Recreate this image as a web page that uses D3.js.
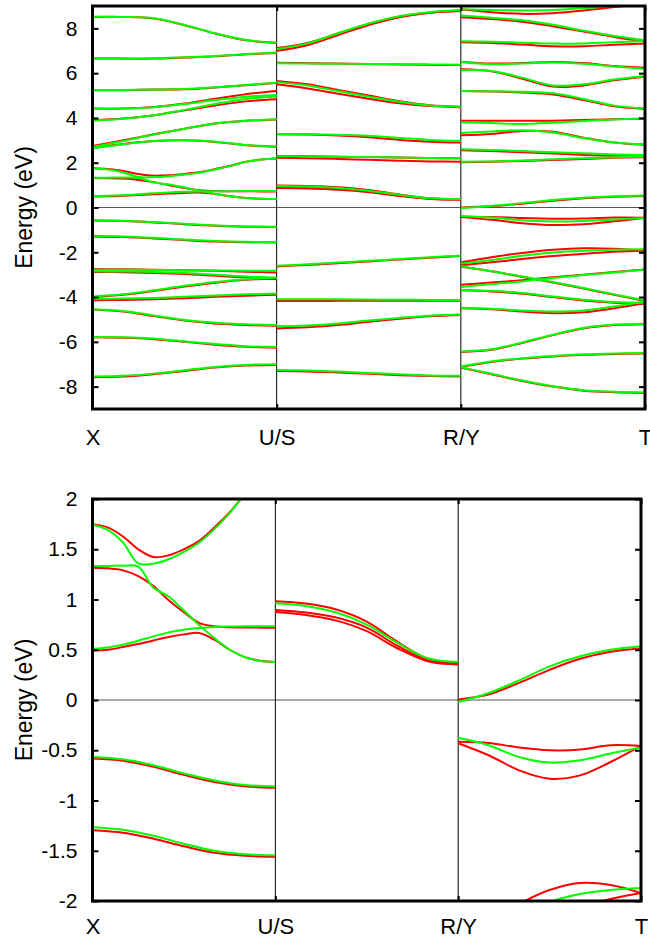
<!DOCTYPE html>
<html>
<head>
<meta charset="utf-8">
<script src="https://cdn.jsdelivr.net/npm/d3@7"></script>
<style>
  body { margin: 0; background: #fff; }
  svg text { font-family: "Liberation Sans", Arial, Helvetica, sans-serif; fill: #000; }
</style>
</head>
<body>
<svg id="chart" width="650" height="939"></svg>
<script>
// High-symmetry path
const kPath = ["X", "U/S", "R/Y", "T"];

// Energy ticks for the full view and the zoom near the gap
const fullTicks = [-8, -6, -4, -2, 0, 2, 4, 6, 8];
const zoomTicks = [-2, -1.5, -1, -0.5, 0, 0.5, 1, 1.5, 2];

// Band energies (eV), evenly sampled along each path segment.
// Red = spin up, green = spin down.
const redXU = [
  [8.51, 8.51, 8.44, 8.14, 7.77, 7.47, 7.35],
  [6.65, 6.65, 6.65, 6.70, 6.75, 6.84, 6.90],
  [5.24, 5.24, 5.27, 5.28, 5.36, 5.46, 5.56],
  [4.42, 4.42, 4.49, 4.64, 4.86, 5.06, 5.20],
  [3.90, 3.97, 4.12, 4.34, 4.56, 4.74, 4.83],
  [2.75, 3.00, 3.27, 3.52, 3.75, 3.87, 3.93],
  [2.66, 2.84, 2.97, 3.00, 2.93, 2.78, 2.71],
  [1.75, 1.717, 1.627, 1.50, 1.423, 1.44, 1.50, 1.583, 1.717, 1.867, 2.04, 2.14, 2.19],
  [1.317, 1.31, 1.29, 1.233, 1.133, 0.993, 0.873, 0.767, 0.733, 0.723, 0.722, 0.72, 0.72],
  [0.493, 0.50, 0.527, 0.557, 0.593, 0.627, 0.653, 0.667, 0.60, 0.50, 0.427, 0.39, 0.377],
  [-0.583, -0.605, -0.665, -0.745, -0.815, -0.858, -0.873],
  [-1.295, -1.32, -1.38, -1.455, -1.52, -1.55, -1.56],
  [-2.75, -2.76, -2.78, -2.80, -2.83, -2.87, -2.90],
  [-2.88, -2.89, -2.92, -2.97, -3.05, -3.13, -3.20],
  [-4.00, -3.90, -3.73, -3.53, -3.36, -3.23, -3.17],
  [-4.14, -4.13, -4.10, -4.05, -3.99, -3.94, -3.90],
  [-4.56, -4.65, -4.85, -5.05, -5.18, -5.25, -5.28],
  [-5.80, -5.82, -5.88, -6.00, -6.13, -6.22, -6.26],
  [-7.58, -7.55, -7.45, -7.30, -7.15, -7.06, -7.03]
];
const greenXU = [
  [8.52, 8.51, 8.45, 8.15, 7.78, 7.48, 7.36],
  [6.66, 6.66, 6.66, 6.71, 6.77, 6.85, 6.92],
  [5.25, 5.25, 5.27, 5.29, 5.37, 5.47, 5.57],
  [4.42, 4.42, 4.48, 4.62, 4.80, 4.95, 5.03],
  [3.88, 3.96, 4.12, 4.36, 4.62, 4.85, 4.96],
  [2.70, 2.97, 3.26, 3.52, 3.75, 3.88, 3.94],
  [2.63, 2.82, 2.97, 3.01, 2.94, 2.79, 2.72],
  [1.743, 1.693, 1.567, 1.36, 1.357, 1.40, 1.473, 1.567, 1.70, 1.86, 2.04, 2.14, 2.19],
  [1.333, 1.333, 1.337, 1.327, 1.117, 1.03, 0.89, 0.745, 0.617, 0.50, 0.427, 0.39, 0.377],
  [0.51, 0.523, 0.55, 0.59, 0.633, 0.673, 0.70, 0.717, 0.727, 0.731, 0.733, 0.733, 0.733],
  [-0.567, -0.59, -0.65, -0.73, -0.80, -0.845, -0.86],
  [-1.265, -1.29, -1.35, -1.43, -1.50, -1.535, -1.545],
  [-2.78, -2.78, -2.79, -2.80, -2.81, -2.82, -2.83],
  [-2.85, -2.86, -2.88, -2.93, -3.00, -3.08, -3.14],
  [-3.97, -3.88, -3.70, -3.50, -3.33, -3.20, -3.14],
  [-4.08, -4.07, -4.04, -3.99, -3.93, -3.88, -3.85],
  [-4.54, -4.62, -4.82, -5.02, -5.15, -5.22, -5.25],
  [-5.78, -5.79, -5.85, -5.98, -6.10, -6.20, -6.23],
  [-7.55, -7.52, -7.42, -7.27, -7.12, -7.03, -7.00]
];

const redUR = [
  [7.00, 7.25, 7.70, 8.15, 8.50, 8.70, 8.78],
  [7.12, 7.35, 7.78, 8.20, 8.52, 8.71, 8.80],
  [6.46, 6.45, 6.43, 6.41, 6.39, 6.37, 6.36],
  [5.65, 5.50, 5.25, 5.00, 4.75, 4.57, 4.50],
  [5.50, 5.32, 5.08, 4.86, 4.66, 4.53, 4.48],
  [3.27, 3.26, 3.22, 3.14, 3.02, 2.94, 2.90],
  [2.30, 2.29, 2.27, 2.25, 2.23, 2.21, 2.20],
  [2.22, 2.20, 2.17, 2.13, 2.09, 2.06, 2.04],
  [0.983, 0.96, 0.90, 0.78, 0.58, 0.41, 0.365],
  [0.895, 0.87, 0.82, 0.72, 0.54, 0.395, 0.357],
  [0.875, 0.845, 0.79, 0.685, 0.515, 0.385, 0.352],
  [-2.63, -2.57, -2.49, -2.41, -2.32, -2.24, -2.17],
  [-4.18, -4.18, -4.17, -4.17, -4.17, -4.17, -4.17],
  [-5.40, -5.35, -5.25, -5.10, -4.97, -4.86, -4.80],
  [-7.30, -7.32, -7.37, -7.43, -7.49, -7.53, -7.55]
];
const greenUR = [
  [7.08, 7.33, 7.78, 8.22, 8.54, 8.73, 8.82],
  [6.44, 6.43, 6.42, 6.41, 6.40, 6.39, 6.38],
  [5.60, 5.45, 5.20, 4.95, 4.72, 4.56, 4.50],
  [3.27, 3.27, 3.25, 3.20, 3.10, 3.02, 2.98],
  [2.29, 2.28, 2.27, 2.25, 2.23, 2.21, 2.20],
  [0.962, 0.935, 0.87, 0.75, 0.57, 0.415, 0.377],
  [-2.60, -2.54, -2.46, -2.38, -2.30, -2.22, -2.15],
  [-4.10, -4.10, -4.10, -4.11, -4.12, -4.13, -4.14],
  [-5.30, -5.27, -5.18, -5.05, -4.93, -4.83, -4.78],
  [-7.26, -7.28, -7.33, -7.39, -7.45, -7.50, -7.52]
];

const redRT = [
  [8.85, 8.72, 8.65, 8.68, 8.80, 8.95, 9.10],
  [8.50, 8.42, 8.30, 8.10, 7.86, 7.62, 7.42],
  [7.38, 7.35, 7.28, 7.20, 7.20, 7.27, 7.33],
  [6.50, 6.43, 6.45, 6.50, 6.45, 6.32, 6.24],
  [6.17, 6.08, 5.75, 5.40, 5.45, 5.68, 5.84],
  [5.20, 5.18, 5.14, 5.05, 4.80, 4.52, 4.40],
  [3.87, 3.87, 3.87, 3.88, 3.91, 3.94, 3.96],
  [3.23, 3.28, 3.42, 3.38, 3.12, 2.90, 2.80],
  [2.56, 2.52, 2.47, 2.41, 2.35, 2.30, 2.27],
  [2.02, 2.04, 2.08, 2.12, 2.17, 2.22, 2.25],
  [0.005, 0.055, 0.17, 0.30, 0.41, 0.48, 0.515],
  [-0.415, -0.427, -0.473, -0.50, -0.493, -0.45, -0.457],
  [-0.43, -0.55, -0.70, -0.783, -0.75, -0.617, -0.457],
  [-2.45, -2.22, -2.03, -1.89, -1.82, -1.84, -1.92],
  [-2.58, -2.45, -2.30, -2.17, -2.07, -1.98, -1.92],
  [-2.65, -2.85, -3.10, -3.35, -3.62, -3.90, -4.18],
  [-3.45, -3.35, -3.25, -3.12, -3.00, -2.88, -2.77],
  [-3.70, -3.75, -3.85, -4.00, -4.15, -4.25, -4.30],
  [-4.50, -4.55, -4.65, -4.72, -4.68, -4.50, -4.28],
  [-6.45, -6.35, -6.05, -5.70, -5.40, -5.25, -5.21],
  [-7.12, -6.90, -6.75, -6.65, -6.58, -6.54, -6.52],
  [-7.15, -7.45, -7.75, -8.00, -8.18, -8.25, -8.28]
];
const greenRT = [
  [8.86, 8.82, 8.80, 8.82, 8.90, 9.00, 9.10],
  [8.58, 8.48, 8.36, 8.16, 7.90, 7.66, 7.47],
  [7.42, 7.40, 7.36, 7.32, 7.33, 7.38, 7.44],
  [6.50, 6.40, 6.43, 6.48, 6.42, 6.30, 6.20],
  [6.13, 6.10, 5.80, 5.45, 5.50, 5.72, 5.86],
  [5.20, 5.19, 5.17, 5.10, 4.85, 4.55, 4.42],
  [3.81, 3.77, 3.73, 3.78, 3.86, 3.93, 3.97],
  [3.33, 3.40, 3.45, 3.35, 3.10, 2.90, 2.82],
  [2.60, 2.57, 2.52, 2.47, 2.42, 2.37, 2.34],
  [2.04, 2.06, 2.10, 2.15, 2.20, 2.24, 2.27],
  [-0.02, 0.07, 0.195, 0.335, 0.435, 0.50, 0.535],
  [-0.375, -0.45, -0.567, -0.623, -0.60, -0.533, -0.473],
  [-2.50, -2.35, -2.15, -2.01, -1.93, -1.89, -1.87],
  [-2.62, -2.85, -3.08, -3.33, -3.60, -3.88, -4.15],
  [-3.55, -3.42, -3.30, -3.15, -3.02, -2.90, -2.77],
  [-3.68, -3.72, -3.82, -3.98, -4.12, -4.22, -4.25],
  [-4.48, -4.52, -4.60, -4.65, -4.60, -4.42, -4.20],
  [-6.43, -6.33, -6.03, -5.68, -5.38, -5.23, -5.20],
  [-7.10, -6.88, -6.73, -6.63, -6.56, -6.52, -6.50],
  [-7.13, -7.43, -7.73, -7.98, -8.16, -8.23, -8.26]
];

// Each segment spans one unit of the path coordinate
const spinSets = [
  { color: "#ff0000", segments: [redXU, redUR, redRT] },
  { color: "#00ff00", segments: [greenXU, greenUR, greenRT] }
];

// Panel layout
const panels = [
  { id: "full", top: 6, bottom: 409, left: 92.5, right: 645, domain: [-9, 9], ticks: fullTicks, labelGap: 20 },
  { id: "zoom", top: 499, bottom: 901, left: 92.5, right: 641, domain: [-2, 2], ticks: zoomTicks, labelGap: 17 }
];

const svg = d3.select("#chart");

// Turn a sampled band into [k, E] points along the path
function bandPoints(values, seg) {
  const n = values.length;
  return values.map((e, i) => [seg + i / (n - 1), e]);
}

const fmt = d => String(d);

panels.forEach(p => {
  const x = d3.scaleLinear().domain([0, 3]).range([p.left, p.right]);
  const y = d3.scaleLinear().domain(p.domain).range([p.bottom, p.top]);
  const g = svg.append("g");

  g.append("clipPath").attr("id", "clip-" + p.id)
    .append("rect")
    .attr("x", p.left).attr("y", p.top)
    .attr("width", p.right - p.left).attr("height", p.bottom - p.top);

  // Fermi level and segment dividers
  g.append("line")
    .attr("x1", p.left).attr("x2", p.right)
    .attr("y1", y(0)).attr("y2", y(0))
    .attr("stroke", "#555").attr("stroke-width", 1);
  [1, 2].forEach(k => {
    g.append("line")
      .attr("x1", x(k)).attr("x2", x(k))
      .attr("y1", p.top).attr("y2", p.bottom)
      .attr("stroke", "#000").attr("stroke-width", 1);
  });

  // Bands
  const line = d3.line()
    .x(d => x(d[0])).y(d => y(d[1]))
    .curve(d3.curveCatmullRom.alpha(0.5));
  const bands = g.append("g").attr("clip-path", "url(#clip-" + p.id + ")");
  spinSets.forEach(set => {
    set.segments.forEach((seg, si) => {
      seg.forEach(values => {
        bands.append("path")
          .attr("d", line(bandPoints(values, si)))
          .attr("fill", "none")
          .attr("stroke", set.color)
          .attr("stroke-width", 2)
          .attr("stroke-linejoin", "round");
      });
    });
  });

  // Axes with inward ticks
  const left = g.append("g").attr("transform", `translate(${p.left},0)`)
    .call(d3.axisLeft(y).tickValues(p.ticks).tickSize(-6).tickPadding(15).tickFormat(fmt));
  const right = g.append("g").attr("transform", `translate(${p.right},0)`)
    .call(d3.axisRight(y).tickValues(p.ticks).tickSize(-6).tickFormat(""));
  const bottom = g.append("g").attr("transform", `translate(0,${p.bottom})`)
    .call(d3.axisBottom(x).tickValues([0, 1, 2, 3]).tickSize(-5).tickPadding(p.labelGap).tickFormat(i => kPath[i]));
  const top = g.append("g").attr("transform", `translate(0,${p.top})`)
    .call(d3.axisTop(x).tickValues([0, 1, 2, 3]).tickSize(-5).tickFormat(""));

  [left, right, bottom, top].forEach(a => {
    a.select(".domain").remove();
    a.selectAll(".tick line").attr("stroke", "#000").attr("stroke-width", 2);
    a.attr("font-family", null).attr("font-size", null);
  });
  left.selectAll(".tick text").attr("font-size", 21);
  bottom.selectAll(".tick text").attr("font-size", 22);

  // Frame
  g.append("rect")
    .attr("x", p.left).attr("y", p.top)
    .attr("width", p.right - p.left).attr("height", p.bottom - p.top)
    .attr("fill", "none").attr("stroke", "#000").attr("stroke-width", 3);

  // Axis title
  g.append("text")
    .attr("transform", `translate(32,${(p.top + p.bottom) / 2}) rotate(-90)`)
    .attr("text-anchor", "middle")
    .attr("font-size", 23)
    .text("Energy (eV)");
});
</script>
</body>
</html>
